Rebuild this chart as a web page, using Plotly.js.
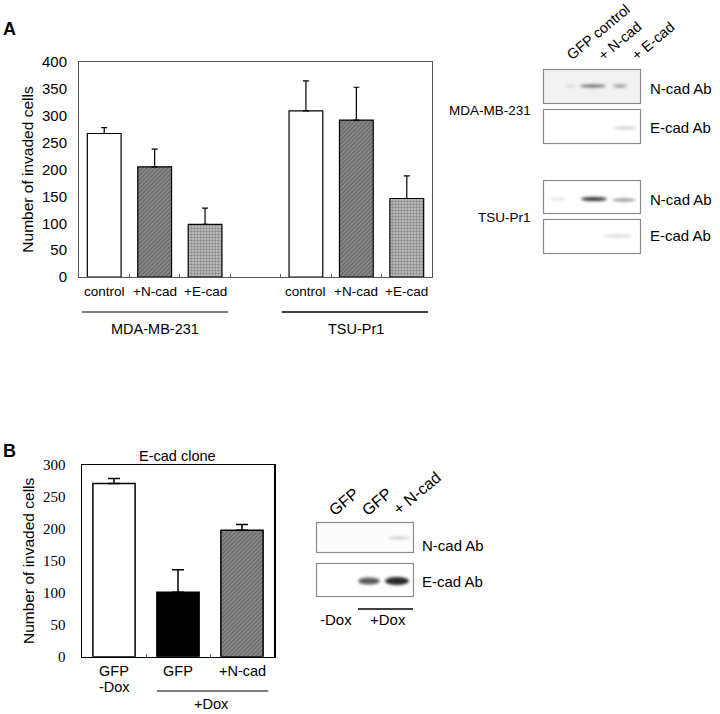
<!DOCTYPE html>
<html>
<head>
<meta charset="utf-8">
<script src="https://cdn.plot.ly/plotly-3.0.1.min.js"></script>
<style>html,body{margin:0;padding:0;background:#fff;}#chart{width:720px;height:714px;}</style>
</head>
<body>
<div id="chart"></div>
<script>
// ---------- data ----------
const categoriesA = ['control', '+N-cad', '+E-cad'];
const groupsA = ['MDA-MB-231', 'TSU-Pr1'];
const mdaValues = [267, 205, 98];
const mdaErrors = [11, 33, 30];
const tsuValues = [309, 292, 146];
const tsuErrors = [56, 61, 42];
const yTicksA = [0, 50, 100, 150, 200, 250, 300, 350, 400];

const categoriesB = ['GFP', 'GFP', '+N-cad'];
const subLabelsB = ['-Dox', '+Dox'];
const cloneValues = [271, 101, 198];
const cloneErrors = [8, 35, 9];
const yTicksB = [0, 50, 100, 150, 200, 250, 300];

const laneLabelsA = ['GFP control', '+ N-cad', '+ E-cad'];
const laneLabelsB = ['GFP', 'GFP', '+ N-cad'];
const antibodies = ['N-cad Ab', 'E-cad Ab'];

// ---------- helpers (layout only) ----------
const W = 720, H = 714;
const px = x => x / W;
const py = y => 1 - y / H;
const sans = 'Liberation Sans, Arial, sans-serif';
const serif = 'Liberation Serif, Times New Roman, serif';

const xA = [0, 1, 2, 4, 5, 6];
const valsA = mdaValues.concat(tsuValues);
const errsA = mdaErrors.concat(tsuErrors);
const fillStyle = [
  {color: '#ffffff', shape: '', fg: '#000'},
  {color: '#8c8c8c', shape: '/', fg: '#111111'},
  {color: '#c8c8c8', shape: '.', fg: '#3a3a3a'}
];
const styleA = xA.map((_, i) => fillStyle[i % 3]);

const traceA = {
  type: 'bar', x: xA, y: valsA, width: 0.67, xaxis: 'x', yaxis: 'y',
  marker: {
    color: styleA.map(s => s.color),
    line: {color: '#000', width: 1.2},
    pattern: {shape: styleA.map(s => s.shape), fgcolor: styleA.map(s => s.fg), size: 3, solidity: 0.5, fillmode: 'overlay'}
  },
  error_y: {type: 'data', symmetric: false, array: errsA, arrayminus: errsA.map(() => 0), color: '#000', thickness: 1.2, width: 3},
  hoverinfo: 'none', showlegend: false
};

const xB = [0, 1, 2];
const traceB = {
  type: 'bar', x: xB, y: cloneValues, width: 0.66, xaxis: 'x2', yaxis: 'y2',
  marker: {
    color: ['#ffffff', '#000000', '#8c8c8c'],
    line: {color: '#000', width: 1.5},
    pattern: {shape: ['', '', '/'], fgcolor: '#111111', size: 3, solidity: 0.5, fillmode: 'overlay'}
  },
  error_y: {type: 'data', symmetric: false, array: cloneErrors, arrayminus: cloneErrors.map(() => 0), color: '#000', thickness: 1.5, width: 6},
  hoverinfo: 'none', showlegend: false
};

const annotations = [];
function ann(o) {
  annotations.push(Object.assign({showarrow: false, font: {family: sans, size: 14, color: '#000'}, xanchor: 'center', yanchor: 'middle'}, o));
}
const f = (size, family) => ({family: family || sans, size: size, color: '#000'});
// panel letters
ann({text: '<b>A</b>', xref: 'paper', yref: 'paper', x: px(9), y: py(29), font: f(18)});
ann({text: '<b>B</b>', xref: 'paper', yref: 'paper', x: px(9), y: py(451), font: f(18)});
// A category labels
xA.forEach((x, i) => ann({text: categoriesA[i % 3], xref: 'x', yref: 'paper', x: x, y: py(291), font: f(13.5)}));
ann({text: groupsA[0], xref: 'x', yref: 'paper', x: 1, y: py(329), font: f(14.5)});
ann({text: groupsA[1], xref: 'x', yref: 'paper', x: 5, y: py(329), font: f(14.5)});
// B labels
ann({text: categoriesB[0], xref: 'x2', yref: 'paper', x: 0, y: py(671), font: f(14.5)});
ann({text: subLabelsB[0], xref: 'x2', yref: 'paper', x: 0, y: py(687), font: f(14.5)});
ann({text: categoriesB[1], xref: 'x2', yref: 'paper', x: 1, y: py(671), font: f(14.5)});
ann({text: categoriesB[2], xref: 'x2', yref: 'paper', x: 2, y: py(671), font: f(14.5)});
ann({text: subLabelsB[1], xref: 'x2', yref: 'paper', x: 1.53, y: py(704), font: f(14.5)});
ann({text: 'E-cad clone', xref: 'paper', yref: 'paper', x: px(177), y: py(456), font: f(14.5)});

// blot labels A
ann({text: groupsA[0], xref: 'paper', yref: 'paper', x: px(533), xanchor: 'right', y: py(110), font: f(13.5)});
ann({text: groupsA[1], xref: 'paper', yref: 'paper', x: px(533), xanchor: 'right', y: py(217), font: f(13.5)});
[88, 127, 199, 236].forEach((y, i) => ann({text: antibodies[i % 2], xref: 'paper', yref: 'paper', x: px(648), xanchor: 'left', y: py(y), font: f(15)}));
[[561, 66], [592, 66], [626, 66]].forEach((p, i) => ann({text: laneLabelsA[i], textangle: -40, xref: 'paper', yref: 'paper', x: px(p[0]), y: py(p[1]), xanchor: 'left', yanchor: 'bottom', font: f(14.5)}));
// blot labels B
[545, 581].forEach((y, i) => ann({text: antibodies[i], xref: 'paper', yref: 'paper', x: px(420), xanchor: 'left', y: py(y), font: f(15)}));
[[323, 521], [356, 521], [387, 521]].forEach((p, i) => ann({text: laneLabelsB[i], textangle: -40, xref: 'paper', yref: 'paper', x: px(p[0]), y: py(p[1]), xanchor: 'left', yanchor: 'bottom', font: f(16)}));
ann({text: subLabelsB[0], xref: 'paper', yref: 'paper', x: px(336), y: py(619), font: f(15)});
ann({text: subLabelsB[1], xref: 'paper', yref: 'paper', x: px(388), y: py(619), font: f(15)});

const shapes = [
  {type: 'line', xref: 'x', yref: 'paper', x0: -0.44, x1: 2.46, y0: py(312), y1: py(312), line: {color: '#000', width: 1.2}},
  {type: 'line', xref: 'x', yref: 'paper', x0: 3.52, x1: 6.42, y0: py(312), y1: py(312), line: {color: '#000', width: 1.5}},
  {type: 'line', xref: 'x2', yref: 'paper', x0: 0.67, x1: 2.41, y0: py(691), y1: py(691), line: {color: '#000', width: 1.2}},
  {type: 'line', xref: 'paper', yref: 'paper', x0: px(358), x1: px(413), y0: py(609), y1: py(609), line: {color: '#000', width: 1.5}}
];

// ---------- blot images (decorative) ----------
const blotBoxes = [
  {x: 543, y: 69, w: 97, h: 34, bg: '#f1f1f1', bands: [[593, 86, 26, 3, 0.6], [620, 86, 14, 3, 0.4], [570, 86, 10, 2, 0.12]]},
  {x: 543, y: 109, w: 97, h: 34, bg: '#ffffff', bands: [[625, 128, 24, 3, 0.2]]},
  {x: 543, y: 180, w: 97, h: 33, bg: '#ffffff', bands: [[558, 199, 16, 2, 0.15], [594, 199, 26, 4, 0.8], [624, 200, 24, 3, 0.45]]},
  {x: 543, y: 219, w: 97, h: 34, bg: '#ffffff', bands: [[618, 236, 30, 3, 0.17]]},
  {x: 316, y: 522, w: 97, h: 30, bg: '#fcfcfc', bands: [[399, 538, 22, 3, 0.2]]},
  {x: 316, y: 563, w: 97, h: 33, bg: '#ffffff', bands: [[369, 581, 22, 7, 0.65], [397, 581, 24, 8, 0.85]]}
];
function blotImage() {
  const c = document.createElement('canvas');
  c.width = W; c.height = H;
  const ctx = c.getContext('2d');
  blotBoxes.forEach(b => {
    ctx.filter = 'none';
    ctx.fillStyle = b.bg;
    ctx.fillRect(b.x, b.y, b.w, b.h);
    ctx.save();
    ctx.beginPath(); ctx.rect(b.x, b.y, b.w, b.h); ctx.clip();
    ctx.filter = 'blur(1.6px)';
    b.bands.forEach(d => {
      ctx.fillStyle = 'rgba(0,0,0,' + d[4] + ')';
      ctx.beginPath();
      ctx.ellipse(d[0], d[1], d[2] / 2, d[3] / 2, 0, 0, Math.PI * 2);
      ctx.fill();
    });
    ctx.restore();
    ctx.filter = 'none';
    ctx.strokeStyle = '#8a8a8a';
    ctx.lineWidth = 1.2;
    ctx.strokeRect(b.x + 0.5, b.y + 0.5, b.w, b.h);
  });
  return c.toDataURL('image/png');
}

const layout = {
  width: W, height: H,
  margin: {l: 0, r: 0, t: 0, b: 0},
  paper_bgcolor: '#fff', plot_bgcolor: '#fff',
  showlegend: false,
  xaxis: {domain: [px(79), px(432)], range: [-0.5, 6.5], anchor: 'y', showgrid: false, zeroline: false,
    showline: true, mirror: true, linecolor: '#555', linewidth: 1,
    tickvals: [0.5, 1.5, 2.5, 3.5, 4.5, 5.5], ticks: 'inside', ticklen: 3, tickcolor: '#555', showticklabels: false},
  yaxis: {domain: [py(277), py(62)], range: [0, 400], anchor: 'x', showgrid: false, zeroline: false,
    showline: true, mirror: true, linecolor: '#555', linewidth: 1,
    tickvals: yTicksA, ticktext: yTicksA.map(String), ticks: '', ticklabelstandoff: 8,
    tickfont: f(15),
    title: {text: 'Number of invaded cells', font: f(15.5), standoff: 4}},
  xaxis2: {domain: [px(82), px(274)], range: [-0.5, 2.5], anchor: 'y2', showgrid: false, zeroline: false,
    showline: true, mirror: true, linecolor: '#000', linewidth: 1.5,
    tickvals: [0.5, 1.5], ticks: 'inside', ticklen: 3, tickcolor: '#555', showticklabels: false},
  yaxis2: {domain: [py(656.7), py(465)], range: [0, 300], anchor: 'x2', showgrid: false, zeroline: false,
    showline: true, mirror: true, linecolor: '#000', linewidth: 1.5,
    tickvals: yTicksB, ticktext: yTicksB.map(String), ticks: '', ticklabelstandoff: 12,
    tickfont: f(15, serif),
    title: {text: 'Number of invaded cells', font: f(15.5), standoff: 4}},
  annotations: annotations,
  shapes: shapes,
  images: [{source: blotImage(), xref: 'paper', yref: 'paper', x: 0, y: 1, sizex: 1, sizey: 1, sizing: 'stretch', xanchor: 'left', yanchor: 'top', layer: 'above'}]
};

Plotly.newPlot('chart', [traceA, traceB], layout, {staticPlot: true, displayModeBar: false});
</script>
</body>
</html>
